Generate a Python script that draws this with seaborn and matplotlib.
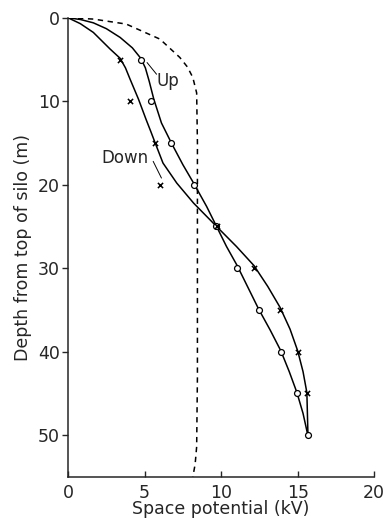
import seaborn as sns
import matplotlib.pyplot as plt
import numpy as np
import pandas as pd

sns.set_style('ticks')
plt.rcParams['font.family'] = ['DejaVu Sans']
plt.rcParams['font.size'] = 12

# measured points (depth in m, potential in kV)
depth_pts = [5, 10, 15, 20, 25, 30, 35, 40, 45, 50]
up_pts = [4.75, 5.4, 6.75, 8.2, 9.65, 11.05, 12.45, 13.9, 14.95, 15.65]
down_depth_pts = [5, 10, 15, 20, 25, 30, 35, 40, 45]
down_pts = [3.4, 4.05, 5.65, 6.0, 9.7, 12.15, 13.85, 15.0, 15.6]

# fitted curves
up_curve_x = [0, 0.8, 1.65, 2.5, 3.4, 4.2, 4.75, 5.05, 5.3, 5.6, 6.1, 6.75, 7.5, 8.2, 9.05, 9.7,
              10.35, 11.05, 11.75, 12.45, 13.2, 13.9, 14.45, 14.95, 15.35, 15.65]
up_curve_y = [0, 0.2, 0.6, 1.3, 2.35, 3.6, 4.85, 6.0, 7.6, 9.75, 12.6, 15.0, 17.6, 19.8, 22.6, 25.0,
              27.4, 29.7, 32.3, 34.9, 37.4, 39.9, 42.4, 44.9, 47.4, 49.9]
down_curve_x = [0, 0.8, 1.65, 2.75, 3.4, 3.75, 4.05, 4.6, 5.1, 5.4, 5.65, 6.2, 7.1, 8.2, 9.7,
                11.0, 12.15, 13.05, 13.85, 14.5, 15.0, 15.35, 15.6, 15.67]
down_curve_y = [0, 0.7, 1.75, 3.75, 4.85, 6.0, 7.35, 9.75, 12.2, 13.6, 14.8, 17.4, 19.8, 22.2, 25.0,
                27.4, 29.7, 32.2, 34.7, 37.3, 39.9, 42.4, 44.9, 49.9]
dash_x = [0, 1.65, 3.8, 6.0, 7.3, 7.8, 8.15, 8.4, 8.45, 8.45, 8.4, 8.3, 8.15]
dash_y = [0, 0.15, 0.75, 2.55, 4.75, 5.9, 7.15, 9.0, 15, 43, 51.4, 53.5, 55]

fig, ax = plt.subplots(figsize=(3.89, 5.24), dpi=100)
fig.subplots_adjust(left=0.175, right=0.962, top=0.966, bottom=0.09)

lw = 1.1
sns.lineplot(x=up_curve_x, y=up_curve_y, sort=False, estimator=None, color='black', lw=lw, ax=ax)
sns.lineplot(x=down_curve_x, y=down_curve_y, sort=False, estimator=None, color='black', lw=lw, ax=ax)
sns.lineplot(x=dash_x, y=dash_y, sort=False, estimator=None, color='black', lw=lw,
             ls=(0, (3.5, 3)), ax=ax)
sns.scatterplot(x=up_pts, y=depth_pts, marker='o', s=18, facecolor='white',
                edgecolor='black', linewidth=0.9, zorder=5, ax=ax)
sns.scatterplot(x=down_pts, y=down_depth_pts, marker='x', s=14, color='black',
                linewidth=1.1, zorder=5, ax=ax)

ax.text(6.5, 7.6, 'Up', ha='center', va='center', fontsize=12)
ax.plot([5.16, 5.78], [5.36, 6.76], color='black', lw=0.7)
ax.text(3.7, 16.8, 'Down', ha='center', va='center', fontsize=12)
ax.plot([5.56, 6.1], [17.2, 19.2], color='black', lw=0.7)

ax.set_xlim(0, 20)
ax.set_ylim(55, 0)
ax.set_xticks([0, 5, 10, 15, 20])
ax.set_yticks([0, 10, 20, 30, 40, 50])
ax.tick_params(axis='x', direction='in', length=4, width=1, pad=5, labelsize=12.5)
ax.tick_params(axis='y', direction='out', length=4, width=1, pad=2, labelsize=12.5)
ax.set_xlabel('Space potential (kV)', fontsize=12.5, labelpad=-1)
ax.set_ylabel('Depth from top of silo (m)', fontsize=12.5, labelpad=4)
sns.despine(ax=ax)
for s in ['left', 'bottom']:
    ax.spines[s].set_linewidth(1.1)

fig.savefig('out.png', dpi=100)
